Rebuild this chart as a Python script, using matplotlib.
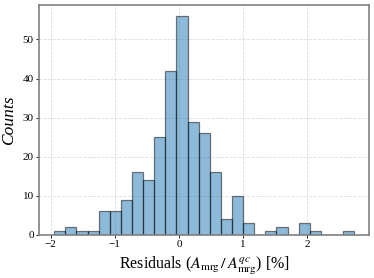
import numpy as np
import matplotlib
matplotlib.use("Agg")
import matplotlib.pyplot as plt

# histogram of residuals, counts
bin_start = -1.945
bin_width = 0.1733
counts = [1, 2, 1, 1, 6, 6, 9, 16, 14, 25, 42, 56, 29, 26, 16, 4, 10, 3,
          0, 1, 2, 0, 3, 1, 0, 0, 1]
xticks = [-2, -1, 0, 1, 2]
yticks = [0, 10, 20, 30, 40, 50]

plt.rcParams['font.family'] = 'Liberation Serif'
plt.rcParams['mathtext.fontset'] = 'stix'

edges = bin_start + bin_width * np.arange(len(counts) + 1)

fig, ax = plt.subplots(figsize=(3.74, 2.78), dpi=100)
ax.hist(edges[:-1], bins=edges, weights=counts, color='C0', alpha=0.5,
        edgecolor='black', linewidth=0.9)

ax.set_xticks(xticks)
ax.set_yticks(yticks)
ax.tick_params(labelsize=8, length=2.5, width=0.6, pad=1.5)
ax.grid(True, linestyle='--', color='#dddddd', linewidth=0.6)
ax.set_axisbelow(True)
for s in ax.spines.values():
    s.set_color('#808080')
    s.set_linewidth(1.2)

ax.set_xlabel(r'Residuals ($A_{\rm mrg}\,/\,A^{qc}_{\rm mrg}$) [%]', fontsize=11.5)
ax.set_ylabel('Counts', fontsize=12.5, style='italic')
ax.yaxis.set_label_coords(-0.068, 0.5)

fig.subplots_adjust(left=0.105, right=0.987, top=0.982, bottom=0.155)
fig.savefig('out.png')
